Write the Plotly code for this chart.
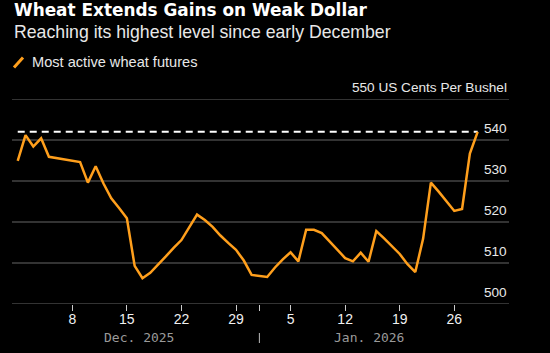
import plotly.graph_objects as go
import pandas as pd

# ---- data ----
dates = [
    "2025-12-01", "2025-12-02", "2025-12-03", "2025-12-04", "2025-12-05",
    "2025-12-09", "2025-12-10", "2025-12-11", "2025-12-12", "2025-12-13",
    "2025-12-14", "2025-12-15", "2025-12-16", "2025-12-17", "2025-12-18",
    "2025-12-19", "2025-12-20", "2025-12-21", "2025-12-22", "2025-12-24",
    "2025-12-25", "2025-12-26", "2025-12-27", "2025-12-28", "2025-12-29",
    "2025-12-30", "2025-12-31", "2026-01-02", "2026-01-03", "2026-01-04",
    "2026-01-05", "2026-01-06", "2026-01-07", "2026-01-08", "2026-01-09",
    "2026-01-10", "2026-01-11", "2026-01-12", "2026-01-13", "2026-01-14",
    "2026-01-15", "2026-01-16", "2026-01-17", "2026-01-18", "2026-01-19",
    "2026-01-20", "2026-01-21", "2026-01-22", "2026-01-23", "2026-01-24",
    "2026-01-25", "2026-01-26", "2026-01-27", "2026-01-28", "2026-01-29",
]
wheat = [
    534.9, 541.2, 538.4, 540.4, 535.9,
    534.6, 529.6, 533.6, 529.4, 525.8,
    523.4, 520.9, 509.3, 506.3, 507.6,
    509.5, 511.6, 513.7, 515.6, 521.8,
    520.5, 518.8, 516.7, 514.9, 513.2,
    510.6, 507.1, 506.6, 508.9, 510.9,
    512.6, 510.4, 518.1, 518.1, 517.3,
    515.3, 513.2, 511.2, 510.4, 512.5,
    510.3, 517.8, 516.0, 514.1, 512.2,
    509.7, 507.8, 515.9, 529.6, 527.4,
    525.0, 522.7, 523.2, 536.7, 542.0,
]
series_name = "Most active wheat futures"

y_ticks = [500, 510, 520, 530, 540, 550]
y_tick_labels = ["500", "510", "520", "530", "540", "550 US Cents Per Bushel"]

x_ticks = ["2025-12-08", "2025-12-15", "2025-12-22", "2025-12-29", "2026-01-01",
           "2026-01-05", "2026-01-12", "2026-01-19", "2026-01-26"]
x_tick_labels = ["8", "15", "22", "29", "", "5", "12", "19", "26"]
month_labels = ["Dec. 2025", "Jan. 2026"]
month_sep = "2026-01-01"

title = "Wheat Extends Gains on Weak Dollar"
subtitle = "Reaching its highest level since early December"

# ---- styling ----
ORANGE = "#FF9F1C"
BG = "#000000"
GRID = "#454545"
SANS = "Liberation Sans, Arial"
W, H = 550, 353
ML, MR, MT, MB = 12, 41, 99, 49
PW, PH = W - ML - MR, H - MT - MB


def px_x(px):
    return (px - ML) / PW


def px_y(py):
    return (H - MB - py) / PH


start = pd.Timestamp("2025-12-01")
x_range = [start + pd.Timedelta(days=-0.735), start + pd.Timedelta(days=63.02)]

fig = go.Figure()

last_val = wheat[-1]
fig.add_trace(go.Scatter(
    x=[dates[0], dates[-1]], y=[last_val, last_val], mode="lines",
    line=dict(color="#FFFFFF", width=2, dash="7px,5px"),
    hoverinfo="skip", showlegend=False,
))
fig.add_trace(go.Scatter(
    x=dates, y=wheat, mode="lines", name=series_name,
    line=dict(color=ORANGE, width=2.5), showlegend=False,
))

shapes = []
for v in y_ticks:
    shapes.append(dict(type="line", xref="paper", x0=0, x1=1, yref="y", y0=v, y1=v,
                       line=dict(color=GRID, width=1.3), layer="below"))
# month separator
shapes.append(dict(type="line", xref="x", x0=month_sep, x1=month_sep, yref="paper",
                   y0=px_y(333), y1=px_y(343), line=dict(color="#BBBBBB", width=1)))
# legend swatch
shapes.append(dict(type="line", xref="paper", yref="paper",
                   x0=px_x(14), x1=px_x(23), y0=px_y(67.5), y1=px_y(57.5),
                   line=dict(color=ORANGE, width=3)))

annotations = []
for v, lab in zip(y_ticks, y_tick_labels):
    annotations.append(dict(x=1, xref="paper", y=v, yref="y", text=lab, showarrow=False,
                            xanchor="right", yanchor="middle", yshift=12,
                            font=dict(family=SANS, size=13.6, color="#E8E8E8")))
annotations.append(dict(x=px_x(12), xref="paper", y=px_y(10), yref="paper", text="<b>" + title + "</b>",
                        showarrow=False, xanchor="left", yanchor="middle",
                        font=dict(family="DejaVu Sans", size=16.9, color="#FFFFFF")))
annotations.append(dict(x=px_x(12), xref="paper", y=px_y(32), yref="paper", text=subtitle,
                        showarrow=False, xanchor="left", yanchor="middle",
                        font=dict(family=SANS, size=17.7, color="#E8E8E8")))
annotations.append(dict(x=px_x(30), xref="paper", y=px_y(62), yref="paper", text=series_name,
                        showarrow=False, xanchor="left", yanchor="middle",
                        font=dict(family=SANS, size=14.6, color="#E8E8E8")))
for lab, cx in zip(month_labels, [139, 369]):
    annotations.append(dict(x=px_x(cx), xref="paper", y=px_y(337), yref="paper", text=lab,
                            showarrow=False, xanchor="center", yanchor="middle",
                            font=dict(family="DejaVu Sans Mono", size=13, color="#9A9A9A")))

fig.update_layout(
    width=W, height=H,
    margin=dict(l=ML, r=MR, t=MT, b=MB, pad=0),
    paper_bgcolor=BG, plot_bgcolor=BG,
    showlegend=False,
    shapes=shapes, annotations=annotations,
    xaxis=dict(type="date", range=x_range, showgrid=False, zeroline=False, showline=False,
               tickmode="array", tickvals=x_ticks, ticktext=x_tick_labels,
               ticks="outside", ticklen=6, tickwidth=1, tickcolor="#CCCCCC",
               ticklabelstandoff=-4,
               tickfont=dict(family=SANS, size=14, color="#F0F0F0")),
    yaxis=dict(range=[500, 550], showgrid=False, zeroline=False, showline=False,
               showticklabels=False, ticks=""),
)

fig.write_html("out.html")
